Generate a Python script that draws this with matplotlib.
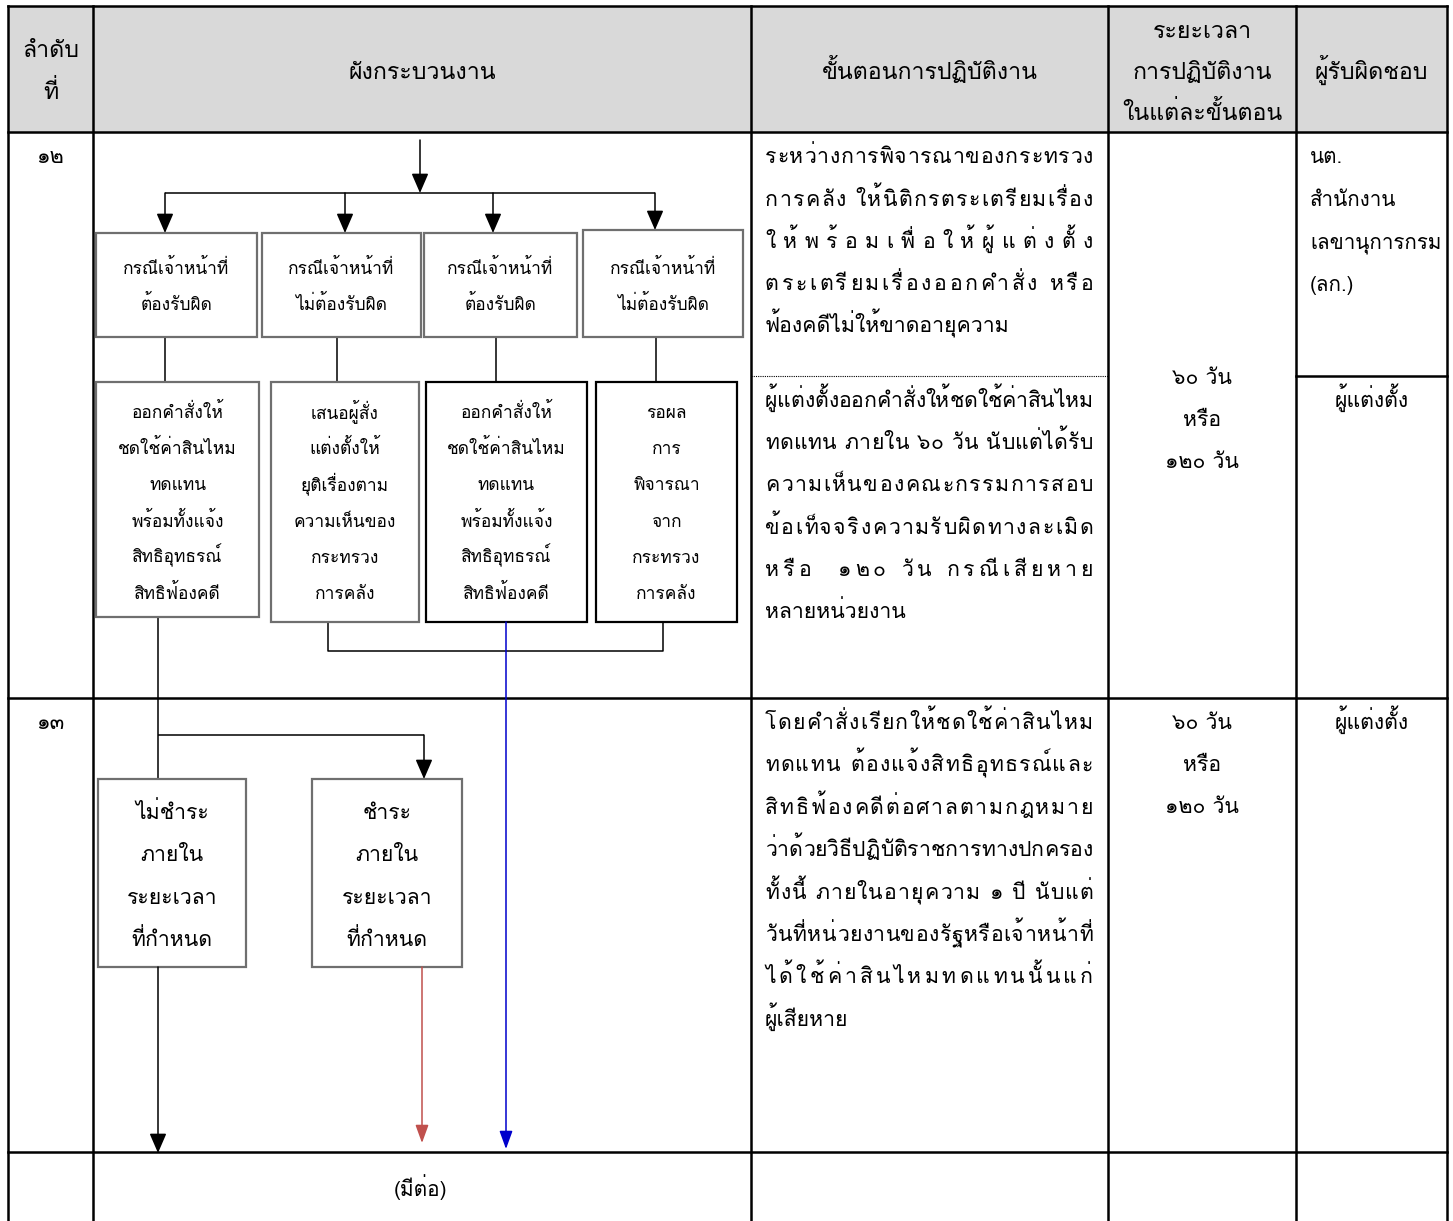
import matplotlib
matplotlib.use("Agg")
import matplotlib.pyplot as plt
from matplotlib import font_manager
from matplotlib.ft2font import FT2Font
from matplotlib.patches import Rectangle

# -----------------------------
# Pick a font that has Thai glyphs
# -----------------------------
def find_thai_families():
    found = []
    for f in font_manager.fontManager.ttflist:
        try:
            cmap = FT2Font(f.fname).get_charmap()
        except Exception:
            continue
        if 0x0E01 in cmap and 0x0E33 in cmap and 0x0E51 in cmap:
            if f.name not in found:
                found.append(f.name)
    return found

thai_fonts = find_thai_families()
plt.rcParams["font.family"] = thai_fonts + ["DejaVu Sans"]

# -----------------------------
# Chart data (texts)
# -----------------------------
header_labels = [["ลำดับ", "ที่"], ["ผังกระบวนงาน"], ["ขั้นตอนการปฏิบัติงาน"],
                 ["ระยะเวลา", "การปฏิบัติงาน", "ในแต่ละขั้นตอน"], ["ผู้รับผิดชอบ"]]
row_numbers = ["๑๒", "๑๓"]

case_boxes = [["กรณีเจ้าหน้าที่", "ต้องรับผิด"], ["กรณีเจ้าหน้าที่", "ไม่ต้องรับผิด"],
              ["กรณีเจ้าหน้าที่", "ต้องรับผิด"], ["กรณีเจ้าหน้าที่", "ไม่ต้องรับผิด"]]
action_boxes = [
    ["ออกคำสั่งให้", "ชดใช้ค่าสินไหม", "ทดแทน", "พร้อมทั้งแจ้ง", "สิทธิอุทธรณ์", "สิทธิฟ้องคดี"],
    ["เสนอผู้สั่ง", "แต่งตั้งให้", "ยุติเรื่องตาม", "ความเห็นของ", "กระทรวง", "การคลัง"],
    ["ออกคำสั่งให้", "ชดใช้ค่าสินไหม", "ทดแทน", "พร้อมทั้งแจ้ง", "สิทธิอุทธรณ์", "สิทธิฟ้องคดี"],
    ["รอผล", "การ", "พิจารณา", "จาก", "กระทรวง", "การคลัง"],
]
payment_boxes = [["ไม่ชำระ", "ภายใน", "ระยะเวลา", "ที่กำหนด"],
                 ["ชำระ", "ภายใน", "ระยะเวลา", "ที่กำหนด"]]

step12a = ["ระหว่างการพิจารณาของกระทรวง", "การคลัง ให้นิติกรตระเตรียมเรื่อง",
           "ให้พร้อมเพื่อให้ผู้แต่งตั้ง", "ตระเตรียมเรื่องออกคำสั่ง หรือ",
           "ฟ้องคดีไม่ให้ขาดอายุความ"]
step12b = ["ผู้แต่งตั้งออกคำสั่งให้ชดใช้ค่าสินไหม", "ทดแทน ภายใน ๖๐ วัน นับแต่ได้รับ",
           "ความเห็นของคณะกรรมการสอบ", "ข้อเท็จจริงความรับผิดทางละเมิด",
           "หรือ  ๑๒๐ วัน กรณีเสียหาย", "หลายหน่วยงาน"]
step13 = ["โดยคำสั่งเรียกให้ชดใช้ค่าสินไหม", "ทดแทน ต้องแจ้งสิทธิอุทธรณ์และ",
          "สิทธิฟ้องคดีต่อศาลตามกฎหมาย", "ว่าด้วยวิธีปฏิบัติราชการทางปกครอง",
          "ทั้งนี้ ภายในอายุความ ๑ ปี นับแต่", "วันที่หน่วยงานของรัฐหรือเจ้าหน้าที่",
          "ได้ใช้ค่าสินไหมทดแทนนั้นแก่", "ผู้เสียหาย"]
durations = [["๖๐ วัน", "หรือ", "๑๒๐ วัน"], ["๖๐ วัน", "หรือ", "๑๒๐ วัน"]]
resp12a = ["นต.", "สำนักงาน", "เลขานุการกรม", "(ลก.)"]
resp12b = "ผู้แต่งตั้ง"
resp13 = "ผู้แต่งตั้ง"
footer_text = "(มีต่อ)"

# -----------------------------
# Layout (pixel space)
# -----------------------------
W, H = 1453, 1221
col_x = [8, 93, 751, 1108, 1296, 1447]
row_y = [6, 132, 698, 1152, 1221]

fig = plt.figure(figsize=(W / 100, H / 100), dpi=100)
ax = fig.add_axes([0, 0, 1, 1])
ax.set_xlim(0, W)
ax.set_ylim(H, 0)
ax.axis("off")
renderer = fig.canvas.get_renderer()

TABLE_LW = 1.8
FLOW_LW = 1.1
BOX_GRAY = "#6f6f6f"
FS_HEAD = 16.7
FS_MAIN = 15.3
FS_BOX = 12.5
FS_NUM = 15.5
BASE = 6  # baseline offset below a line's visual centre

# header background
ax.add_patch(Rectangle((col_x[0], row_y[0]), col_x[-1] - col_x[0], row_y[1] - row_y[0],
                       facecolor="#d9d9d9", edgecolor="none", zorder=0))

# table grid
for x in col_x:
    ax.plot([x, x], [row_y[0], row_y[-1]], color="black", lw=TABLE_LW, zorder=3)
for y in row_y[:-1]:
    ax.plot([col_x[0], col_x[-1]], [y, y], color="black", lw=TABLE_LW, zorder=3)
# split inside row 12
ax.plot([col_x[2], col_x[3]], [376, 376], color="black", lw=0.8, ls=(0, (1, 1)), zorder=3)
ax.plot([col_x[4], col_x[5]], [376, 376], color="black", lw=TABLE_LW, zorder=3)


def put(x, y, s, fs, ha="center", color="black", z=5):
    return ax.text(x, y + BASE * fs / FS_MAIN, s, ha=ha, va="baseline",
                   fontsize=fs, color=color, zorder=z)


def stack(x, y0, lines, step, fs, ha="center"):
    for i, s in enumerate(lines):
        put(x, y0 + i * step, s, fs, ha=ha)


# header texts
head_centers = [(col_x[i] + col_x[i + 1]) / 2 for i in range(5)]
head_top = [50, 72, 72, 31, 72]
for cx, y0, lab in zip(head_centers, head_top, header_labels):
    step = 42 if len(lab) == 2 else 41
    stack(cx, y0, lab, step, FS_HEAD)

# row numbers
for y, num in zip([157, 723], row_numbers):
    put(50, y, num, FS_NUM)


# -----------------------------
# Flowchart helpers
# -----------------------------
def box(x0, y0, x1, y1, edge):
    ax.add_patch(Rectangle((x0, y0), x1 - x0, y1 - y0, facecolor="white",
                           edgecolor=edge, lw=1.6, zorder=4))


def line(xs, ys, color="black", lw=FLOW_LW):
    ax.plot(xs, ys, color=color, lw=lw, solid_capstyle="butt", zorder=2)


def arrow(x, y0, y1, color="black", hw=0.26, hl=0.6, lw=FLOW_LW):
    ax.annotate("", xy=(x, y1), xytext=(x, y0),
                arrowprops=dict(arrowstyle=f"-|>,head_width={hw},head_length={hl}",
                                mutation_scale=20, color=color, lw=lw,
                                shrinkA=0, shrinkB=0), zorder=6)


# top fan-out
arrow(420, 140, 193)
line([165, 655], [193, 193])
case_x = [(96, 257), (262, 421), (424, 577), (583, 743)]
case_top = [233, 233, 233, 230]
arrow_x = [165, 345, 493, 655]
for ax_x, top in zip(arrow_x, case_top):
    arrow(ax_x, 193, top)
for (x0, x1), top, txt in zip(case_x, case_top, case_boxes):
    box(x0, top, x1, 337, BOX_GRAY)
    stack((x0 + x1) / 2, 269, txt, 36, FS_BOX)

# connectors between the two box rows
for lx in [165, 337, 496, 656]:
    line([lx, lx], [337, 382])

act_x = [(96, 259), (271, 419), (426, 587), (596, 737)]
act_bottom = [617, 622, 622, 622]
act_edge = [BOX_GRAY, BOX_GRAY, "black", "black"]
for (x0, x1), yb, edge, txt in zip(act_x, act_bottom, act_edge, action_boxes):
    box(x0, 382, x1, yb, edge)
    stack((x0 + x1) / 2, 413, txt, 36.2, FS_BOX)

# bracket joining "ยุติเรื่อง" and "รอผล"
line([328, 328, 663, 663], [622, 651, 651, 622])

# long lines down to the next page
line([158, 158], [617, 779])
arrow(158, 967, 1153)
arrow(506, 622, 1149, color="#0000cc", hw=0.2, hl=0.55)
line([158, 424], [735, 735])
arrow(424, 735, 779)

pay_x = [(98, 246), (312, 462)]
for (x0, x1), txt in zip(pay_x, payment_boxes):
    box(x0, 779, x1, 967, BOX_GRAY)
    stack((x0 + x1) / 2, 813, txt, 42.3, FS_MAIN)
arrow(422, 967, 1143, color="#c0504d", hw=0.2, hl=0.55)

put(421, 1190, footer_text, 15)

# -----------------------------
# Step descriptions (justified like the original)
# -----------------------------
COMBINING = set(chr(c) for c in [0x0E31] + list(range(0x0E34, 0x0E3B)) + list(range(0x0E47, 0x0E4F)))


def clusters(s):
    out = []
    for ch in s:
        if out and ch in COMBINING:
            out[-1] += ch
        else:
            out.append(ch)
    return out


def width(s, fs):
    t = ax.text(0, 0, s, fontsize=fs)
    w = t.get_window_extent(renderer).width
    t.remove()
    return w


def justified(x0, x1, y0, lines, step, fs):
    space_w = width("ก ก", fs) - width("กก", fs)
    for i, s in enumerate(lines):
        y = y0 + i * step
        if i == len(lines) - 1:
            put(x0, y, s, fs, ha="left")
            continue
        # natural width of the line, spread the rest evenly between clusters
        parts = clusters(s)
        widths = [space_w if p == " " else width(p, fs) for p in parts]
        natural = width(s, fs)
        extra = (x1 - x0 - natural) / max(len(parts) - 1, 1)
        scale = natural / sum(widths)
        x = x0
        for p, w in zip(parts, widths):
            if p != " ":
                put(x, y, p, fs, ha="left")
            x += w * scale + extra


justified(765, 1093, 157, step12a, 42.5, FS_MAIN)
justified(765, 1093, 401, step12b, 42.2, FS_MAIN)
justified(765, 1093, 723, step13, 42.4, FS_MAIN)

# durations and responsible
dur_cx = head_centers[3]
stack(dur_cx, 378, durations[0], 42, FS_MAIN)
stack(dur_cx, 723, durations[1], 42, FS_MAIN)

stack(1310, 157, resp12a, 42.7, 14.8, ha="left")
put(head_centers[4], 401, resp12b, FS_MAIN)
put(head_centers[4], 723, resp13, FS_MAIN)

fig.savefig("out.png", dpi=100)
